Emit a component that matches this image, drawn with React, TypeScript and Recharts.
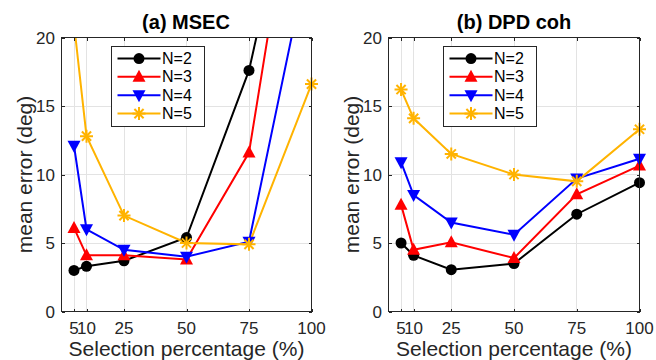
import React from "react";
import { LineChart, Line, XAxis, YAxis, CartesianGrid } from "recharts";

// x positions (selection percentage)
const selection = [5, 10, 25, 50, 75, 100];
const xTicks = [5, 10, 25, 50, 75, 100];
const yTicks = [0, 5, 10, 15, 20];
const xDomain = [0, 100];
const yDomain = [0, 20];

// (a) MSEC — values above 20 run off the top of the axes
const msecN2 = [3.0, 3.3, 3.7, 5.4, 17.6, 38.0];
const msecN3 = [6.1, 4.1, 4.1, 3.8, 11.6, 39.8];
const msecN4 = [12.1, 6.0, 4.5, 4.0, 5.1, 27.0];
const msecN5 = [21.0, 12.8, 7.0, 5.0, 4.9, 16.6];

// (b) DPD coh
const dpdN2 = [5.0, 4.1, 3.05, 3.5, 7.1, 9.4];
const dpdN3 = [7.8, 4.5, 5.05, 3.9, 8.55, 10.65];
const dpdN4 = [10.9, 8.5, 6.5, 5.6, 9.7, 11.15];
const dpdN5 = [16.2, 14.1, 11.5, 10.0, 9.5, 13.3];

const seriesKeys = ["n2", "n3", "n4", "n5"];
const seriesNames = ["N=2", "N=3", "N=4", "N=5"];
const seriesColors = ["#000000", "#ff0000", "#0000ff", "#ffb300"];
const seriesMarkers = ["circle", "triangleUp", "triangleDown", "asterisk"];

const FONT = "'Liberation Sans', Arial, Helvetica, sans-serif";
const AXIS = "#262626";
const GRID = "#e3e3e3";

// panel geometry
const W = 328;
const H = 360;
const M_TOP = 37.5;
const M_RIGHT = 16.5;
const M_BOTTOM = 0.5;
const Y_AXIS_W = 50;
const X_AXIS_H = 48;

function Marker({ cx, cy, kind, color }: { cx: number; cy: number; kind: string; color: string }) {
  if (kind === "circle") return <circle cx={cx} cy={cy} r={5.5} fill={color} />;
  if (kind === "triangleUp")
    return <polygon points={`${cx},${cy - 7} ${cx - 6.5},${cy + 5} ${cx + 6.5},${cy + 5}`} fill={color} />;
  if (kind === "triangleDown")
    return <polygon points={`${cx},${cy + 7} ${cx - 6.5},${cy - 5} ${cx + 6.5},${cy - 5}`} fill={color} />;
  const r = 6.5;
  const d = r * 0.7071;
  return (
    <g stroke={color} strokeWidth={2}>
      <line x1={cx - r} y1={cy} x2={cx + r} y2={cy} />
      <line x1={cx} y1={cy - r} x2={cx} y2={cy + r} />
      <line x1={cx - d} y1={cy - d} x2={cx + d} y2={cy + d} />
      <line x1={cx - d} y1={cy + d} x2={cx + d} y2={cy - d} />
    </g>
  );
}

const makeDot = (kind: string, color: string) => (props: any) => {
  const { cx, cy, index } = props;
  if (cx == null || cy == null) return <g key={index} />;
  return (
    <g key={index}>
      <Marker cx={cx} cy={cy} kind={kind} color={color} />
    </g>
  );
};

function XTitle({ viewBox }: any) {
  const { x, y, width } = viewBox;
  return (
    <text x={x + width / 2} y={y + 44.5} textAnchor="middle" fontSize={21} fill={AXIS} fontFamily={FONT}>
      Selection percentage (%)
    </text>
  );
}

function YTitle({ viewBox }: any) {
  const { x, y, height } = viewBox;
  const cx = x + 12.5;
  const cy = y + height / 2;
  return (
    <text
      x={cx}
      y={cy}
      transform={`rotate(-90 ${cx} ${cy})`}
      textAnchor="middle"
      dominantBaseline="central"
      fontSize={21}
      fill={AXIS}
      fontFamily={FONT}
    >
      mean error (deg)
    </text>
  );
}

// MATLAB-style box with small inward ticks on all four sides
function AxesBox({ marginLeft }: { marginLeft: number }) {
  const x0 = marginLeft + Y_AXIS_W;
  const y0 = M_TOP;
  const w = W - M_RIGHT - x0;
  const h = H - M_BOTTOM - X_AXIS_H - y0;
  const sx = (v: number) => x0 + ((v - xDomain[0]) / (xDomain[1] - xDomain[0])) * w;
  const sy = (v: number) => y0 + h - ((v - yDomain[0]) / (yDomain[1] - yDomain[0])) * h;
  const t = 3;
  return (
    <svg style={{ position: "absolute", left: 0, top: 0, pointerEvents: "none" }} width={W} height={H}>
      <g stroke={AXIS} strokeWidth={1} shapeRendering="crispEdges" fill="none">
        <rect x={x0} y={y0} width={w} height={h} />
        {xTicks.map((v) => (
          <g key={`x${v}`}>
            <line x1={Math.round(sx(v)) + 0.5} y1={y0 + h} x2={Math.round(sx(v)) + 0.5} y2={y0 + h - t} />
            <line x1={Math.round(sx(v)) + 0.5} y1={y0} x2={Math.round(sx(v)) + 0.5} y2={y0 + t} />
          </g>
        ))}
        {yTicks.map((v) => (
          <g key={`y${v}`}>
            <line x1={x0} y1={Math.round(sy(v)) + 0.5} x2={x0 + t} y2={Math.round(sy(v)) + 0.5} />
            <line x1={x0 + w} y1={Math.round(sy(v)) + 0.5} x2={x0 + w - t} y2={Math.round(sy(v)) + 0.5} />
          </g>
        ))}
      </g>
    </svg>
  );
}

function LegendBox({ left }: { left: number }) {
  const rows = [12.6, 30.8, 49.2, 67.6];
  return (
    <svg style={{ position: "absolute", left, top: 46 }} width={94} height={81}>
      <rect x={0.5} y={0.5} width={93} height={80} fill="#fff" stroke={AXIS} strokeWidth={1} />
      {seriesNames.map((name, i) => (
        <g key={name}>
          <line x1={6.5} y1={rows[i]} x2={49.5} y2={rows[i]} stroke={seriesColors[i]} strokeWidth={2} />
          <Marker cx={28} cy={rows[i]} kind={seriesMarkers[i]} color={seriesColors[i]} />
          <text x={51} y={rows[i]} dominantBaseline="central" fontSize={16} fill="#000" fontFamily={FONT}>
            {name}
          </text>
        </g>
      ))}
    </svg>
  );
}

function Panel({ title, values, left, marginLeft, legendLeft, titleX }: any) {
  const data = selection.map((x, i) => ({
    x,
    n2: values[0][i],
    n3: values[1][i],
    n4: values[2][i],
    n5: values[3][i],
  }));
  const tickStyle = { fontSize: 17, fill: AXIS, fontFamily: FONT };
  return (
    <div style={{ position: "absolute", left, top: 0, width: W, height: H }}>
      <LineChart
        width={W}
        height={H}
        data={data}
        margin={{ top: M_TOP, right: M_RIGHT, left: marginLeft, bottom: M_BOTTOM }}
      >
        <CartesianGrid xAxisId="bottom" yAxisId="left" stroke={GRID} strokeWidth={1} shapeRendering="crispEdges" />
        <XAxis
          xAxisId="bottom"
          type="number"
          dataKey="x"
          domain={xDomain}
          ticks={xTicks}
          interval={0}
          height={X_AXIS_H}
          tickSize={-3}
          tickMargin={13.5}
          tick={tickStyle}
          axisLine={false}
          tickLine={false}
          label={<XTitle />}
        />
        <YAxis
          yAxisId="left"
          type="number"
          domain={yDomain}
          ticks={yTicks}
          interval={0}
          allowDataOverflow
          width={Y_AXIS_W}
          tickSize={-3}
          tickMargin={9.5}
          tick={tickStyle}
          axisLine={false}
          tickLine={false}
          label={<YTitle />}
        />
        {seriesKeys.map((k, i) => (
          <Line
            key={k}
            xAxisId="bottom"
            yAxisId="left"
            type="linear"
            dataKey={k}
            name={seriesNames[i]}
            stroke={seriesColors[i]}
            strokeWidth={2}
            dot={makeDot(seriesMarkers[i], seriesColors[i])}
            activeDot={false}
            isAnimationActive={false}
          />
        ))}
      </LineChart>
      <AxesBox marginLeft={marginLeft} />
      <svg style={{ position: "absolute", left: 0, top: 0 }} width={W} height={36}>
        <text x={titleX} y={28.5} textAnchor="middle" fontSize={20} fontWeight="bold" fill="#000" fontFamily={FONT}>
          {title}
        </text>
      </svg>
      <LegendBox left={legendLeft} />
    </div>
  );
}

export default function App() {
  return (
    <div style={{ position: "absolute", left: 0, top: 0, width: 656, height: 360, background: "#fff", fontFamily: FONT }}>
      <Panel title="(a) MSEC" values={[msecN2, msecN3, msecN4, msecN5]} left={0} marginLeft={11.5} legendLeft={110.5} titleX={186} />
      <Panel title="(b) DPD coh" values={[dpdN2, dpdN3, dpdN4, dpdN5]} left={328} marginLeft={10.5} legendLeft={114.5} titleX={186} />
    </div>
  );
}
